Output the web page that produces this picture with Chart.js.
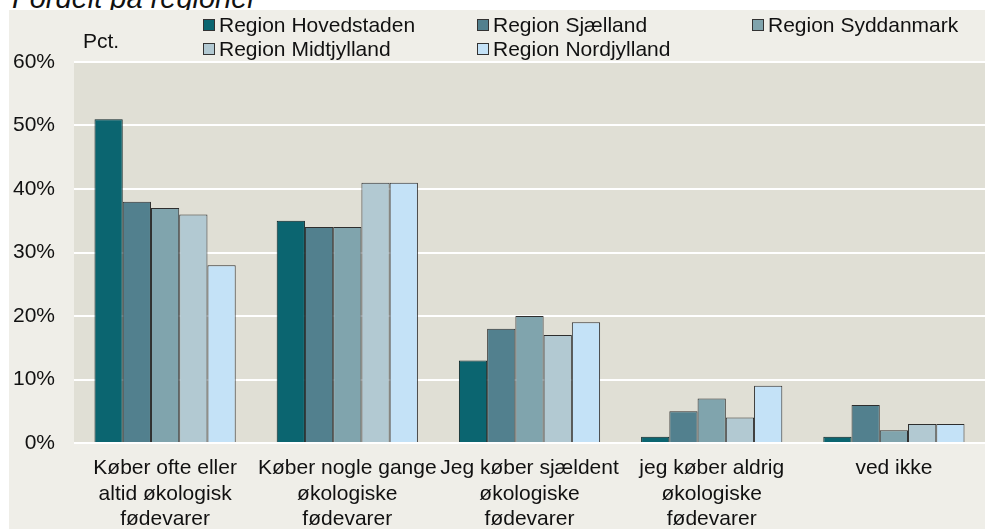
<!DOCTYPE html>
<html>
<head>
<meta charset="utf-8">
<script src="https://cdn.jsdelivr.net/npm/chart.js@4"></script>
<style>
  html, body { margin:0; padding:0; background:#ffffff; }
  #wrap { position:relative; width:985px; height:529px; overflow:hidden; font-family:"Liberation Sans", Arial, sans-serif; }
  #title { position:absolute; left:12px; top:-18px; font-size:29px; font-style:italic; color:#111; white-space:nowrap; z-index:0; }
  #panel { position:absolute; left:9px; top:10px; right:0; bottom:0; background:#EFEEE8; z-index:1; }
  #cv { position:absolute; left:0; top:0; z-index:2; }
  #pct { position:absolute; left:83px; top:29px; font-size:21px; color:#111; z-index:3; }
  .leg { position:absolute; font-size:21px; color:#111; white-space:nowrap; z-index:3; line-height:24px; }
  .leg span.box { display:inline-block; width:10px; height:10px; border:1px solid #333; margin-right:4px; vertical-align:1px; }
</style>
</head>
<body>
<div id="wrap">
  <div id="title">Fordelt på regioner</div>
  <div id="panel"></div>
  <canvas id="cv" width="985" height="529"></canvas>
  <div id="pct">Pct.</div>
  <div id="legend"></div>
</div>
<script>
const categories = [
  ["Køber ofte eller", "altid økologisk", "fødevarer"],
  ["Køber nogle gange", "økologiske", "fødevarer"],
  ["Jeg køber sjældent", "økologiske", "fødevarer"],
  ["jeg køber aldrig", "økologiske", "fødevarer"],
  "ved ikke"
];
const seriesNames = ["Region Hovedstaden", "Region Sjælland", "Region Syddanmark", "Region Midtjylland", "Region Nordjylland"];
const hovedstaden = [51, 35, 13, 1, 1];
const sjaelland   = [38, 34, 18, 5, 6];
const syddanmark  = [37, 34, 20, 7, 2];
const midtjylland = [36, 41, 17, 4, 3];
const nordjylland = [28, 41, 19, 9, 3];
const yTicks = [0, 10, 20, 30, 40, 50, 60];
const seriesColors = ["#0B6570", "#52808E", "#80A4AD", "#B2C9D2", "#C4E2F7"];

const seriesValues = [hovedstaden, sjaelland, syddanmark, midtjylland, nordjylland];

// legend (HTML, built from series names/colours)
const legendPos = [[203, 13], [477, 13], [752, 13], [203, 37], [477, 37]];
const legEl = document.getElementById('legend');
seriesNames.forEach((n, i) => {
  const d = document.createElement('div');
  d.className = 'leg';
  d.style.left = legendPos[i][0] + 'px';
  d.style.top = legendPos[i][1] + 'px';
  d.innerHTML = '<span class="box" style="background:' + seriesColors[i] + '"></span>' + n;
  legEl.appendChild(d);
});

const plotBg = {
  id: 'plotBg',
  beforeDraw(chart) {
    const a = chart.chartArea, c = chart.ctx;
    c.save();
    c.fillStyle = '#E0DFD5';
    c.fillRect(a.left, a.top, a.right - a.left, a.bottom - a.top);
    c.restore();
  }
};

new Chart(document.getElementById('cv'), {
  type: 'bar',
  data: {
    labels: categories,
    datasets: seriesNames.map((n, i) => ({
      label: n,
      data: seriesValues[i],
      backgroundColor: seriesColors[i],
      borderColor: i === 0 ? '#0a2326' : '#2e2e2e',
      borderWidth: 1,
      borderSkipped: 'bottom',
      categoryPercentage: 0.775,
      barPercentage: 1.0
    }))
  },
  options: {
    responsive: false,
    animation: false,
    devicePixelRatio: 1,
    layout: { padding: { top: 62, left: 0, right: 0, bottom: 0 } },
    plugins: { legend: { display: false }, tooltip: { enabled: false }, title: { display: false } },
    scales: {
      x: {
        grid: { display: false, drawTicks: false },
        border: { display: false },
        ticks: {
          color: '#111',
          font: { family: '"Liberation Sans", Arial, sans-serif', size: 21, lineHeight: 1.2 },
          padding: 13,
          maxRotation: 0,
          autoSkip: false
        },
        afterFit(s) { s.height = 86; }
      },
      y: {
        min: 0, max: 60,
        afterBuildTicks(s) { s.ticks = yTicks.map(v => ({ value: v })); },
        grid: { color: '#FFFFFF', lineWidth: 2, drawTicks: false },
        border: { display: false },
        ticks: {
          color: '#111',
          font: { family: '"Liberation Sans", Arial, sans-serif', size: 21 },
          padding: 19,
          callback: v => v + '%'
        },
        afterFit(s) { s.width = 74; }
      }
    }
  },
  plugins: [plotBg]
});
</script>
</body>
</html>
